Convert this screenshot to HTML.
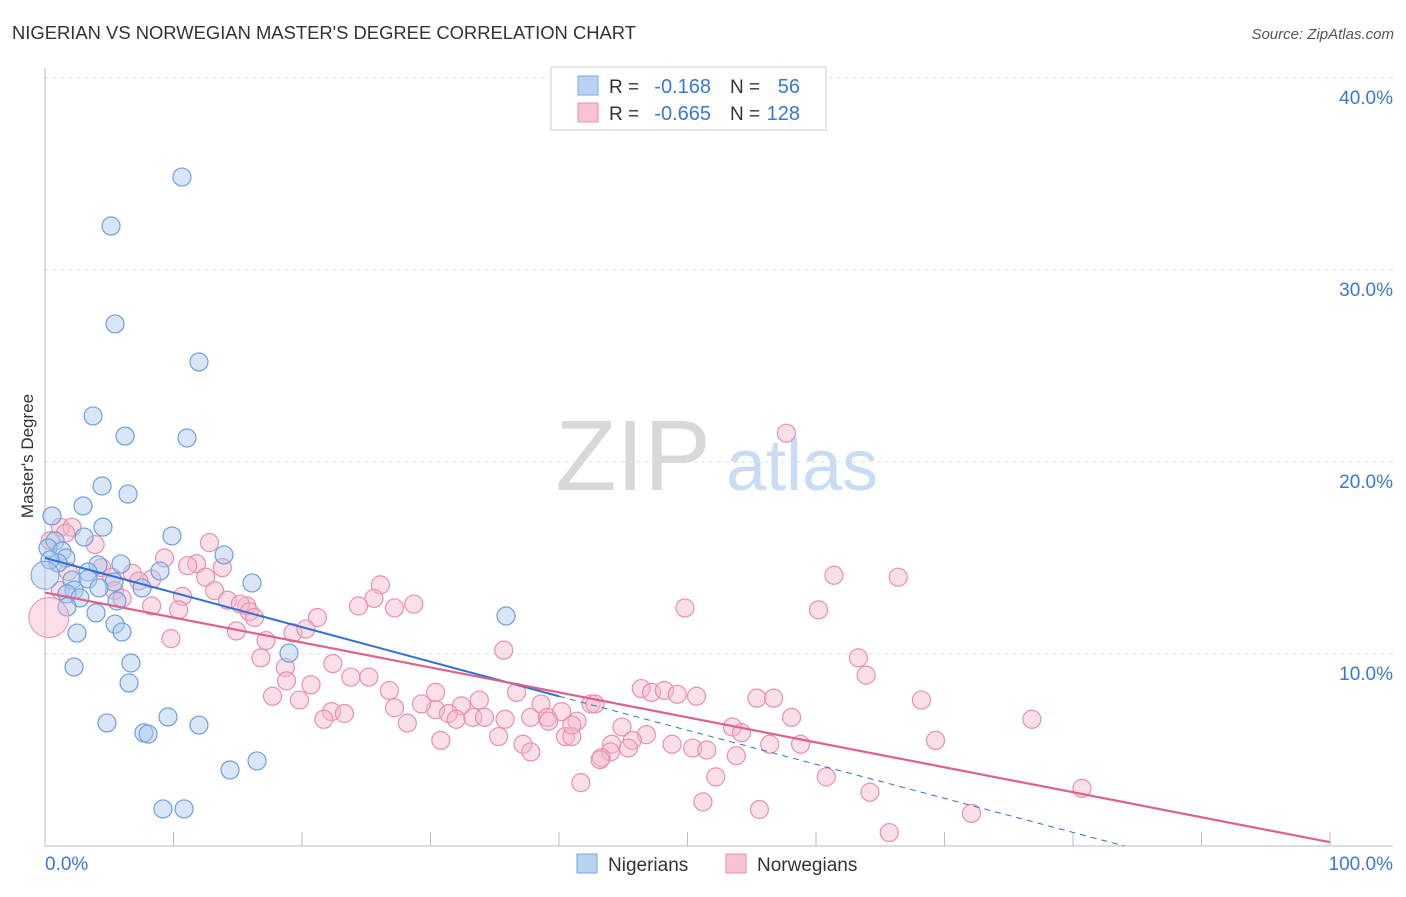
<!DOCTYPE html>
<html><head><meta charset="utf-8"><style>
body{margin:0;background:#fff;font-family:"Liberation Sans",sans-serif}
svg text{font-family:"Liberation Sans",sans-serif}
</style></head><body>
<svg id="chart" width="1406" height="892" viewBox="0 0 1406 892" xmlns="http://www.w3.org/2000/svg">
<text x="12" y="39" font-size="18" fill="#333" textLength="624" lengthAdjust="spacingAndGlyphs">NIGERIAN VS NORWEGIAN MASTER'S DEGREE CORRELATION CHART</text>
<text x="1394" y="39" font-size="15" fill="#555" text-anchor="end" font-style="italic">Source: ZipAtlas.com</text>
<text transform="translate(33,456) rotate(-90)" font-size="17" fill="#333" text-anchor="middle">Master's Degree</text>
<g>
<text x="633" y="490" font-size="100" fill="#d8d8d8" text-anchor="middle" font-family="Liberation Serif">ZIP</text>
<text x="802" y="490" font-size="72" fill="#c9dcf2" text-anchor="middle">atlas</text>
</g>
<g id="grid"></g><g id="axes"></g><g id="marks"></g><g id="trends"></g>
<g>
<rect x="551" y="67" width="275" height="63" fill="#fff" stroke="#ccc"/>
<rect x="578" y="76" width="20" height="19" fill="#b9d3f3" stroke="#7aa7e0"/>
<rect x="578" y="103" width="20" height="19" fill="#f8c3d3" stroke="#e890ae"/>
<text x="609" y="93" font-size="19" fill="#333">R =</text>
<text x="711" y="93" font-size="20" fill="#3a78d4" text-anchor="end">-0.168</text>
<text x="730" y="93" font-size="19" fill="#333">N =</text>
<text x="800" y="93" font-size="20" fill="#3a78d4" text-anchor="end">56</text>
<text x="609" y="120" font-size="19" fill="#333">R =</text>
<text x="711" y="120" font-size="20" fill="#3a78d4" text-anchor="end">-0.665</text>
<text x="730" y="120" font-size="19" fill="#333">N =</text>
<text x="800" y="120" font-size="20" fill="#3a78d4" text-anchor="end">128</text>
</g>
<g>
<rect x="577" y="854" width="20" height="19" fill="#b9d3f3" stroke="#7aa7e0"/>
<text x="608" y="871" font-size="19" fill="#333">Nigerians</text>
<rect x="726" y="854" width="20" height="19" fill="#f8c3d3" stroke="#e890ae"/>
<text x="757" y="871" font-size="19" fill="#333">Norwegians</text>
</g>
</svg>
<script>
const yTicks=[10,20,30,40];
const yTickLabels=["10.0%","20.0%","30.0%","40.0%"];
const xTicks=[0,10,20,30,40,50,60,70,80,90,100];
const nigX=[10.66,5.14,5.45,11.98,3.74,6.23,11.05,4.44,6.46,2.96,0.54,4.51,9.88,3.04,0.78,0.23,1.32,13.93,1.63,1.01,5.91,4.12,8.95,3.35,2.10,16.11,3.35,5.37,7.55,2.26,4.20,1.71,2.72,5.60,1.71,3.97,35.88,5.45,5.99,2.49,18.99,6.69,2.26,6.54,9.57,4.82,11.98,7.70,8.02,16.50,14.40,9.18,10.82,0.39];
const nigY=[34.84,32.29,27.19,25.21,22.40,21.35,21.25,18.75,18.33,17.71,17.19,16.61,16.15,16.09,15.89,15.52,15.36,15.16,15.0,14.74,14.69,14.64,14.32,14.27,13.85,13.70,13.91,13.75,13.44,13.33,13.44,13.13,12.92,12.76,12.45,12.14,11.98,11.56,11.15,11.09,10.05,9.53,9.32,8.49,6.72,6.41,6.30,5.89,5.83,4.43,3.96,1.93,1.93,14.9];
const norX=[57.7,3.9,1.2,2.1,1.6,0.4,12.8,9.3,11.8,13.8,11.1,4.4,6.8,61.4,66.4,1.8,5.2,8.3,7.3,12.5,26.1,1.2,5.4,10.7,13.2,25.6,6.0,14.2,28.7,27.2,24.4,15.7,49.8,60.2,8.3,10.4,15.2,15.9,21.2,16.3,14.9,19.3,20.3,9.8,17.2,35.7,16.8,22.4,63.3,63.9,18.7,18.8,20.7,23.8,25.2,26.8,17.7,19.8,30.4,46.4,47.2,48.2,49.2,50.7,55.4,56.7,36.7,42.5,68.2,27.2,30.4,29.3,32.4,33.8,31.4,32.0,33.3,34.2,37.8,38.6,39.1,40.2,42.8,22.3,23.3,21.7,28.2,35.8,39.2,41.4,44.9,46.8,53.5,54.2,58.1,76.8,30.8,35.3,37.2,37.8,40.5,41.0,41.0,44.1,45.7,45.4,48.8,50.4,51.5,53.8,56.4,58.8,69.3,44.0,43.3,43.2,52.2,60.8,41.7,64.2,80.7,51.2,55.6,72.1,65.7];
const norY=[21.5,15.7,16.6,16.6,16.3,15.9,15.8,15.0,14.7,14.5,14.6,14.5,14.2,14.1,14.0,14.3,14.0,13.9,13.8,14.0,13.6,13.3,13.3,13.0,13.3,12.9,12.9,12.8,12.6,12.4,12.5,12.5,12.4,12.3,12.5,12.3,12.6,12.2,11.9,11.9,11.2,11.1,11.3,10.8,10.7,10.2,9.8,9.5,9.8,8.9,9.3,8.6,8.4,8.8,8.8,8.1,7.8,7.6,8.0,8.2,8.0,8.1,7.9,7.8,7.7,7.7,8.0,7.4,7.6,7.2,7.1,7.4,7.3,7.6,6.9,6.6,6.7,6.7,6.7,7.4,6.7,7.0,7.4,7.0,6.9,6.6,6.4,6.6,6.5,6.5,6.2,5.8,6.2,5.9,6.7,6.6,5.5,5.7,5.3,4.9,5.7,5.7,6.3,5.3,5.5,5.1,5.3,5.1,5.0,4.7,5.3,5.3,5.5,4.9,4.6,4.5,3.6,3.6,3.3,2.8,3.0,2.3,1.9,1.7,0.7];
const nigTrend=[[0,15.0],[40,7.8],[84,0]];
const norTrend=[[0,13.2],[100,0.2]];
const NS='http://www.w3.org/2000/svg';
const X0=45,X1=1330,Y0=846,YPX=19.2;
const sx=v=>X0+v*(X1-X0)/100, sy=v=>Y0-v*YPX;
function mk(tag,attrs,parent){const e=document.createElementNS(NS,tag);for(const k in attrs)e.setAttribute(k,attrs[k]);parent.appendChild(e);return e;}
const grid=document.getElementById('grid'),axes=document.getElementById('axes'),marks=document.getElementById('marks'),trends=document.getElementById('trends');
yTicks.forEach((t,i)=>{
 const l=mk('line',{x1:X0,x2:1393,y1:sy(t),y2:sy(t),stroke:'#ddd','stroke-dasharray':'4,4'},grid);
 
 
 const tx=mk('text',{x:1393,y:sy(t)+26,'font-size':19,fill:'#3a78d4','text-anchor':'end'},axes);
 tx.textContent=yTickLabels[i];
 
 
});
const ya=mk('line',{x1:X0,x2:X0,y1:68,y2:Y0,stroke:'#bbb'},axes);


const xa=mk('line',{x1:X0,x2:1393,y1:Y0,y2:Y0,stroke:'#bbb'},axes);


xTicks.forEach(t=>{
 const l=mk('line',{x1:sx(t),x2:sx(t),y1:832,y2:Y0,stroke:'#bbb'},axes);
 
 
});
[['0.0%',45,'start'],['100.0%',1393,'end']].forEach(a=>{
 const tx=mk('text',{x:a[1],y:870,'font-size':19,fill:'#3a78d4','text-anchor':a[2]},axes);
 tx.textContent=a[0];
 
 
});
function dots(xs,ys,fill,stroke,name){
 xs.forEach((x,i)=>{
  const c=mk('circle',{cx:sx(x),cy:sy(ys[i]),r:9,fill:fill,'fill-opacity':0.45,stroke:stroke,'stroke-width':1.2},marks);
  
  
 });
}
dots(norX,norY,'#f5b8cb','#e890ae','norwegian-point');
dots(nigX,nigY,'#a9c8f0','#6f9fdc','nigerian-point');
const bigN=mk('circle',{cx:sx(0.3),cy:sy(11.9),r:20,fill:'#f5b8cb','fill-opacity':0.45,stroke:'#e890ae'},marks);


const bigB=mk('circle',{cx:sx(0),cy:sy(14.1),r:14,fill:'#a9c8f0','fill-opacity':0.45,stroke:'#6f9fdc'},marks);


const bt=mk('line',{x1:sx(nigTrend[0][0]),y1:sy(nigTrend[0][1]),x2:sx(nigTrend[1][0]),y2:sy(nigTrend[1][1]),stroke:'#2f6fd6','stroke-width':2},trends);


const bd=mk('line',{x1:sx(nigTrend[1][0]),y1:sy(nigTrend[1][1]),x2:sx(nigTrend[2][0]),y2:sy(nigTrend[2][1]),stroke:'#2f6fd6','stroke-width':1,'stroke-dasharray':'6,5'},trends);


const pt=mk('line',{x1:sx(norTrend[0][0]),y1:sy(norTrend[0][1]),x2:sx(norTrend[1][0]),y2:sy(norTrend[1][1]),stroke:'#e0608c','stroke-width':2.2},trends);


</script>
</body></html>
